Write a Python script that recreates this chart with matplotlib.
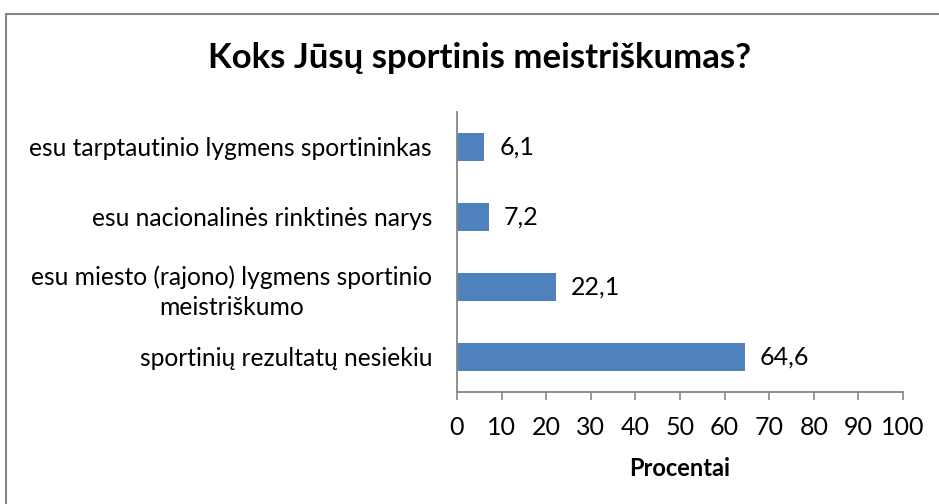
import matplotlib
matplotlib.use('Agg')
import matplotlib.pyplot as plt
from matplotlib.patches import Rectangle

plt.rcParams['font.family'] = ['Lato', 'DejaVu Sans']

# Duomenys (iš viršaus į apačią)
categories = [
    'esu tarptautinio lygmens sportininkas',
    'esu nacionalinės rinktinės narys',
    'esu miesto (rajono) lygmens sportinio\nmeistriškumo',
    'sportinių rezultatų nesiekiu',
]
values = [6.1, 7.2, 22.1, 64.6]
x_ticks = list(range(0, 101, 10))

title = 'Koks Jūsų sportinis meistriškumas?'
x_label = 'Procentai'

bar_color = '#4F81BD'
grey = '#868686'

fig = plt.figure(figsize=(9.39, 5.04), dpi=100)
ax = fig.add_axes([457 / 939, 1 - 392 / 504, (903 - 457) / 939, (392 - 112) / 504])

# kategorijos iš apačios į viršų
ypos = list(range(len(categories)))[::-1]
ax.barh(ypos, values, height=0.4, color=bar_color)

for y, v in zip(ypos, values):
    ax.annotate(f'{v:.1f}'.replace('.', ','), (v, y), xytext=(15, 0),
                textcoords='offset pixels', va='center', ha='left', fontsize=18)

ax.set_xlim(0, 100)
ax.set_ylim(-0.5, len(categories) - 0.5)
ax.set_xticks(x_ticks)
ax.set_xticklabels([str(t) for t in x_ticks], fontsize=18)
ax.set_yticks(ypos)
ax.set_yticklabels(categories, fontsize=17.7, multialignment='center',
                   linespacing=1.35)
ax.tick_params(axis='y', length=0, pad=18)
ax.tick_params(axis='x', length=6, width=1.2, color=grey, direction='out', pad=11)

for s in ['top', 'right']:
    ax.spines[s].set_visible(False)
for s in ['left', 'bottom']:
    ax.spines[s].set_color(grey)
    ax.spines[s].set_linewidth(1.3)

ax.set_xlabel(x_label, fontsize=17, fontweight='bold', labelpad=13)

fig.text(479.5 / 939, 1 - 58 / 504, title, ha='center', va='center',
         fontsize=25, fontweight='bold')

# rėmelis aplink diagramą (matosi tik kairė ir viršutinė kraštinės)
fig.patches.append(Rectangle((5.5 / 939, -0.05), 1.0, 1 - 13.5 / 504 + 0.05,
                             transform=fig.transFigure, fill=False,
                             edgecolor=grey, linewidth=1.5))

fig.savefig('out.png', dpi=100)
